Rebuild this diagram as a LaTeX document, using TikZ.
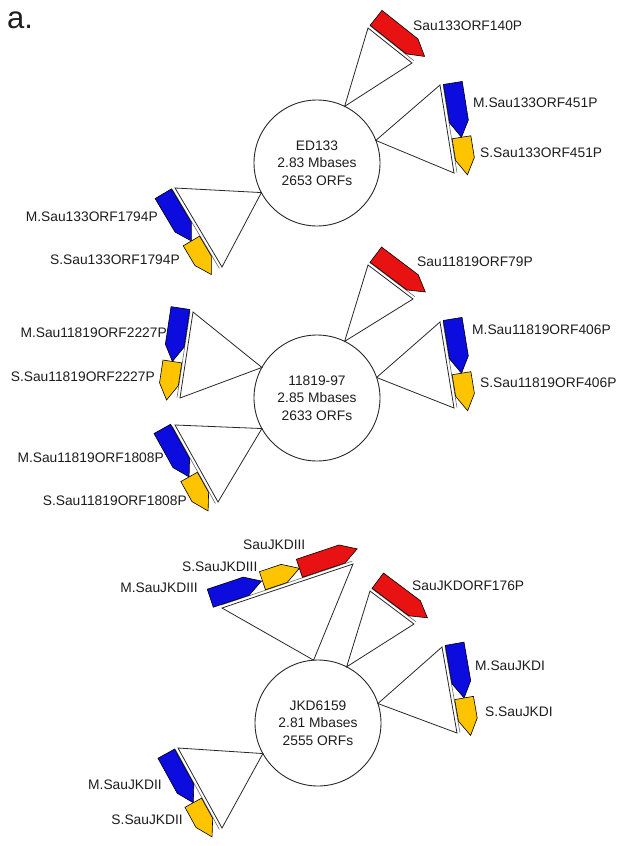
\documentclass[tikz,border=0pt]{standalone}
\usepackage{fontspec}
\setmainfont{Liberation Sans}
\usetikzlibrary{calc}
\definecolor{genered}{RGB}{232,18,18}
\definecolor{geneblue}{RGB}{12,12,222}
\definecolor{geneyellow}{RGB}{255,196,0}
\definecolor{txt}{RGB}{30,30,30}
\definecolor{edge}{RGB}{40,40,40}
\tikzset{
  genome/.style={circle,draw=edge,line width=0.9pt,minimum size=126pt,inner sep=0pt,outer sep=0pt,
     align=center,text=txt,font=\fontsize{13.8}{17.5}\selectfont},
  tri/.style={draw=edge,line width=0.8pt,line join=miter},
  dnaline/.style={draw=edge!70,line width=0.6pt},
  gene/.style={draw=black,line width=0.6pt,line join=miter},
  lbl/.style={text=txt,font=\fontsize{13.8}{16}\selectfont,inner sep=0pt}
}
% segment: name, far vertex 1, far vertex 2, genome node anchor (apex)
\newcommand{\insertseg}[4]{%
  \coordinate (#1-a) at #2;
  \coordinate (#1-b) at #3;
  \coordinate (#1-qa) at ($(#1-a)!13pt!90:(#1-b)$);
  \coordinate (#1-qb) at ($(#1-b)!13pt!-90:(#1-a)$);
  \draw[tri] (#4) -- (#1-a) -- (#1-b) -- cycle;
  \draw[dnaline] ($(#1-a)!3pt!90:(#1-b)$) -- ($(#1-b)!3pt!-90:(#1-a)$);
}
% gene: segment name, tail distance, tip distance, colour
\newcommand{\gene}[4]{%
  \coordinate (g-t) at ($(#1-qa)!#2pt!(#1-qb)$);
  \coordinate (g-p) at ($(#1-qa)!#3pt!(#1-qb)$);
  \coordinate (g-c) at ($(g-p)!16pt!(g-t)$);
  \draw[gene,fill=#4] ($(g-t)!9.5pt!90:(g-p)$) -- ($(g-c)!9.5pt!90:(g-p)$) -- (g-p)
     -- ($(g-c)!9.5pt!-90:(g-p)$) -- ($(g-t)!9.5pt!-90:(g-p)$) -- cycle;
}
\begin{document}
\begin{tikzpicture}[x=1pt,y=-1pt]
\useasboundingbox (0,0) rectangle (621,846);
\fill[white] (0,0) rectangle (621,846);

\node[anchor=base west,inner sep=0pt,text=txt,font=\fontsize{31}{31}\selectfont] (title) at (7,28) {a.};

% ---------- ED133 ----------
\node[genome] (c1) at (317,163) {ED133\\2.83 Mbases\\2653 ORFs};
\insertseg{e1}{(368,28)}{(412,63)}{c1.64}
\insertseg{e2}{(440,85)}{(454,173)}{c1.21}
\insertseg{e3}{(222,267)}{(175,188)}{c1.208}
\gene{e1}{0}{62}{genered}
\gene{e2}{0}{55}{geneblue}
\gene{e2}{55}{93}{geneyellow}
\gene{e3}{93}{38}{geneblue}
\gene{e3}{38}{-1}{geneyellow}
\node[lbl,anchor=west] (l1) at (413,26) {Sau133ORF140P};
\node[lbl,anchor=west] (l2) at (473,103) {M.Sau133ORF451P};
\node[lbl,anchor=west] (l3) at (480,153) {S.Sau133ORF451P};
\node[lbl,anchor=east] (l4) at (158,217) {M.Sau133ORF1794P};
\node[lbl,anchor=east] (l5) at (180,260) {S.Sau133ORF1794P};

% ---------- 11819-97 ----------
\node[genome] (c2) at (317,398) {11819-97\\2.85 Mbases\\2633 ORFs};
\insertseg{f1}{(368,265)}{(413,299)}{c2.64}
\insertseg{f2}{(440,322)}{(454,408)}{c2.19}
\insertseg{f3}{(180,398)}{(193,312)}{c2.151}
\insertseg{f4}{(218,502)}{(175,425)}{c2.209}
\gene{f1}{0}{62}{genered}
\gene{f2}{-1}{54}{geneblue}
\gene{f2}{54}{92}{geneyellow}
\gene{f3}{89}{35}{geneblue}
\gene{f3}{35}{-4}{geneyellow}
\gene{f4}{91}{36}{geneblue}
\gene{f4}{36}{-3}{geneyellow}
\node[lbl,anchor=west] (m1) at (417,262) {Sau11819ORF79P};
\node[lbl,anchor=west] (m2) at (472,330) {M.Sau11819ORF406P};
\node[lbl,anchor=west] (m3) at (480,383) {S.Sau11819ORF406P};
\node[lbl,anchor=east] (m4) at (167,333) {M.Sau11819ORF2227P};
\node[lbl,anchor=east] (m5) at (155,377) {S.Sau11819ORF2227P};
\node[lbl,anchor=east] (m6) at (164,458) {M.Sau11819ORF1808P};
\node[lbl,anchor=east] (m7) at (187,501) {S.Sau11819ORF1808P};

% ---------- JKD6159 ----------
\node[genome] (c3) at (318,723) {JKD6159\\2.81 Mbases\\2555 ORFs};
\insertseg{j1}{(222,608)}{(353,564)}{c3.94}
\insertseg{j2}{(370,591)}{(414,624)}{c3.63}
\insertseg{j3}{(442,647)}{(457,733)}{c3.18}
\insertseg{j4}{(222,828)}{(178,748)}{c3.209}
\gene{j1}{-8}{46}{geneblue}
\gene{j1}{47}{86}{geneyellow}
\gene{j1}{86}{147}{genered}
\gene{j2}{0}{62}{genered}
\gene{j3}{-1}{54}{geneblue}
\gene{j3}{54}{92}{geneyellow}
\gene{j4}{92}{36}{geneblue}
\gene{j4}{36}{-3}{geneyellow}
\node[lbl,anchor=west] (n1) at (243,545) {SauJKDIII};
\node[lbl,anchor=west] (n2) at (182,567) {S.SauJKDIII};
\node[lbl,anchor=east] (n3) at (198,588) {M.SauJKDIII};
\node[lbl,anchor=west] (n4) at (412,586) {SauJKDORF176P};
\node[lbl,anchor=west] (n5) at (475,666) {M.SauJKDI};
\node[lbl,anchor=west] (n6) at (485,712) {S.SauJKDI};
\node[lbl,anchor=east] (n7) at (162,785) {M.SauJKDII};
\node[lbl,anchor=east] (n8) at (183,820) {S.SauJKDII};
\end{tikzpicture}
\end{document}
